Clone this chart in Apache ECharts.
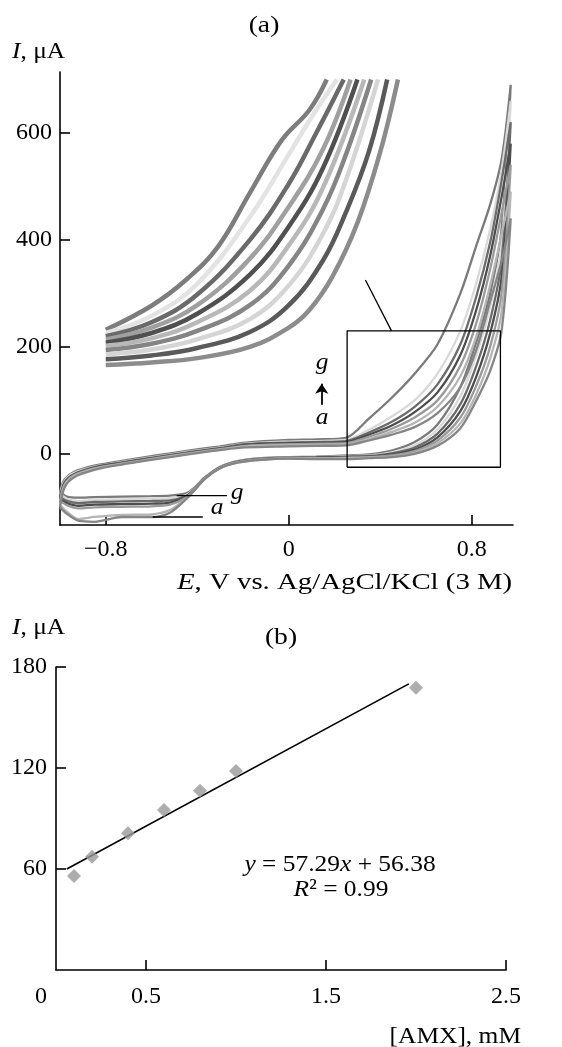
<!DOCTYPE html>
<html><head><meta charset="utf-8">
<script src="https://cdn.jsdelivr.net/npm/echarts@6/dist/echarts.min.js"></script>
<style>html,body{margin:0;padding:0;background:#fff}#c{width:562px;height:1047px}</style>
</head><body><div id="c"></div>
<script>
// ---------- Panel (a): cyclic voltammograms a..g ----------
const curveNames = ['a','b','c','d','e','f','g'];
const curveColors = ['#858585','#b5b5b5','#9a9a9a','#4d4d4d','#6b6b6b','#d9d9d9','#7a7a7a'];
const lowFwdE = [-1.0,-0.98,-0.94,-0.85,-0.73,-0.58,-0.44,-0.30,-0.19,0.0,0.12,0.25];
const lowFwdI = [
  [-100,-63,-44,-30,-20,-10,-1,7,12,14,15,16],
  [-95,-60,-42,-28,-19,-9,0,8,14,16,17,18],
  [-88,-57,-40,-27,-18,-8,1,9,15,18,19,20],
  [-85,-55,-39,-26,-17,-7,2,10,17,20,21,22],
  [-80,-53,-38,-25,-16,-6,3,11,18,21,22,24],
  [-75,-51,-36,-24,-15,-5,4,12,19,23,24,26],
  [-70,-48,-34,-22,-13,-3,6,14,21,26,27,30]
];
const anoFwdE = [0.35,0.45,0.55,0.65,0.75,0.82,0.88,0.93,0.97];
const anoFwdI = [
  [25,36,50,76,125,195,285,360,440],
  [28,41,58,88,145,220,315,410,490],
  [32,47,68,100,165,245,345,450,540],
  [36,53,78,115,185,270,370,480,580],
  [40,60,88,130,205,295,395,510,620],
  [45,70,100,150,230,320,420,530,660],
  [66,105,150,205,300,390,466,550,690]
];
const anoRevE = [0.93,0.88,0.82,0.75,0.65,0.55,0.45,0.35];
const anoRevI = [
  [230,155,100,48,15,0,-6,-8],
  [265,178,112,57,20,2,-5,-7],
  [300,200,128,68,25,5,-3,-6],
  [330,225,145,80,31,8,-1,-5],
  [360,250,165,93,38,12,1,-4],
  [390,275,185,108,46,16,3,-3],
  [420,300,210,125,55,22,6,-1]
];
const lowRevE = [0.25,0.12,0.0,-0.12,-0.22,-0.30,-0.37,-0.41,-0.45,-0.52,-0.60,-0.73,-0.85,-0.92,-0.97,-1.0];
const lowRevI = [
  [-10,-10,-9,-11,-16,-27,-48,-67,-85,-110,-118,-118,-127,-125,-112,-100],
  [-8,-9,-9,-11,-16,-27,-48,-67,-84,-105,-113,-114,-118,-122,-108,-95],
  [-7,-8,-8,-10,-15,-26,-47,-66,-82,-95,-98,-99,-100,-102,-96,-88],
  [-6,-7,-8,-10,-15,-26,-47,-66,-80,-91,-93,-94,-95,-97,-92,-85],
  [-5,-6,-7,-9,-14,-25,-46,-65,-79,-87,-88,-89,-90,-92,-88,-80],
  [-4,-6,-7,-9,-14,-25,-46,-64,-77,-83,-84,-85,-86,-88,-84,-75],
  [-3,-5,-6,-8,-13,-24,-45,-62,-74,-78,-79,-80,-81,-82,-80,-70]
];
// magnified inset (drawn in upper-left, main-axis units)
const insetColors = ['#7d7d7d','#e3e3e3','#6a6a6a','#a0a0a0','#505050','#b8b8b8','#858585','#d5d5d5','#5a5a5a','#8c8c8c'];
const insetCurves = [
  [[-0.80,232],[-0.60,277],[-0.45,325],[-0.31,387],[-0.17,488],[-0.03,587],[0.09,643],[0.166,700]],
  [[-0.80,226],[-0.60,258],[-0.40,318],[-0.17,443],[0.0,560],[0.10,630],[0.21,700]],
  [[-0.80,220],[-0.60,246],[-0.40,298],[-0.17,400],[0.0,505],[0.12,600],[0.24,700]],
  [[-0.80,214],[-0.60,236],[-0.40,278],[-0.17,365],[0.0,462],[0.15,570],[0.27,700]],
  [[-0.80,208],[-0.60,226],[-0.40,262],[-0.17,335],[0.0,425],[0.15,535],[0.30,700]],
  [[-0.80,202],[-0.60,216],[-0.40,246],[-0.17,305],[0.0,390],[0.15,498],[0.33,700]],
  [[-0.80,194],[-0.60,206],[-0.40,230],[-0.17,278],[0.0,352],[0.15,458],[0.25,560],[0.36,700]],
  [[-0.80,186],[-0.60,195],[-0.40,214],[-0.17,252],[0.0,315],[0.15,412],[0.25,512],[0.39,700]],
  [[-0.80,177],[-0.60,184],[-0.40,198],[-0.17,228],[0.0,278],[0.15,362],[0.25,452],[0.35,565],[0.43,700]],
  [[-0.80,166],[-0.60,171],[-0.40,179],[-0.17,200],[0.0,236],[0.09,269],[0.19,331],[0.30,432],[0.40,565],[0.477,700]]
];
const zoomBox = [[0.255,-25],[0.925,-25],[0.925,230],[0.255,230],[0.255,-25]];
const connector = [[0.335,325],[0.449,230]];
const labelLineG = [[-0.49,-78],[-0.27,-78]];
const labelLineA = [[-0.595,-118],[-0.376,-118]];
const arrowLine = [[0.144,92],[0.144,131]];
const aXTicks = [-0.8,0,0.8];
const aYTicks = [0,200,400,600];

// ---------- Panel (b): calibration ----------
const amx = [0.1,0.2,0.4,0.6,0.8,1.0,2.0];
const peakI = [55.9,67.3,81.2,95.1,106.5,118.2,167.7];
const fitLine = [[0.06,60.0],[1.96,170.0]];
const bXTicks = [0.5,1.5,2.5];
const bXLabels = [0,0.5,1.5,2.5];
const bYTicks = [60,120,180];

const FF = '"Liberation Serif","Times New Roman",serif';
const FS = 24;

function loop(k){
  const p=[];
  lowFwdE.forEach((e,i)=>p.push([e,lowFwdI[k][i]]));
  anoFwdE.forEach((e,i)=>p.push([e,anoFwdI[k][i]]));
  anoRevE.forEach((e,i)=>p.push([e,anoRevI[k][i]]));
  lowRevE.forEach((e,i)=>p.push([e,lowRevI[k][i]]));
  return p;
}
function axisCommon(ticks, labels, margin, fmt){
  return {
    axisLine:{show:true,onZero:false,lineStyle:{color:'#000',width:1.6}},
    axisTick:{show:true,inside:true,length:10,customValues:ticks,lineStyle:{color:'#000',width:1.6}},
    axisLabel:{customValues:labels,color:'#000',fontFamily:FF,fontSize:FS,margin:margin,formatter:fmt},
    splitLine:{show:false}
  };
}
const series=[];
insetCurves.forEach((c,i)=>series.push({type:'line',xAxisIndex:0,yAxisIndex:0,data:c,smooth:0.4,showSymbol:false,
  lineStyle:{color:insetColors[i],width:4.5},silent:true,z:2}));
[6,5,4,3,2,1,0].forEach(k=>series.push({type:'line',name:curveNames[k],xAxisIndex:0,yAxisIndex:0,data:loop(k),smooth:0.3,showSymbol:false,
  lineStyle:{color:curveColors[k],width:2.3},silent:true,z:3}));
[zoomBox,connector,labelLineG,labelLineA].forEach(d=>series.push({type:'line',xAxisIndex:0,yAxisIndex:0,data:d,showSymbol:false,clip:false,
  lineStyle:{color:'#000',width:1.3},silent:true,z:5}));
series.push({type:'lines',coordinateSystem:'cartesian2d',xAxisIndex:0,yAxisIndex:0,data:[{coords:arrowLine}],
  symbol:['none','arrow'],symbolSize:[0,10],lineStyle:{color:'#000',width:1.8,opacity:1},silent:true,z:5});
series.push({type:'line',xAxisIndex:1,yAxisIndex:1,data:fitLine,showSymbol:false,lineStyle:{color:'#000',width:1.6},silent:true,z:3});
series.push({type:'scatter',xAxisIndex:1,yAxisIndex:1,data:amx.map((x,i)=>[x,peakI[i]]),symbol:'diamond',symbolSize:[14,14],
  itemStyle:{color:'#999999'},silent:true,z:4});

function txt(x,y,text,align,sx){
  return {type:'text',x:x,y:y,scaleX:sx||1.06,silent:true,style:{text:text,fontFamily:FF,fontSize:FS,fill:'#000',
    align:align,textAlign:align,verticalAlign:'middle',textVerticalAlign:'middle',
    rich:{i:{fontStyle:'italic',fontFamily:FF,fontSize:FS}}}};
}
const graphics=[
  txt(264,26,'(a)','center',1.15),
  txt(12,52,'{i|I}, μA','left'),
  txt(177,583,'{i|E}, V vs. Ag/AgCl/KCl (3 M)','left',1.2),
  txt(237,493,'{i|g}','center'),
  txt(217,508,'{i|a}','center'),
  txt(322,363,'{i|g}','center'),
  txt(322,418,'{i|a}','center'),
  txt(281,638,'(b)','center',1.15),
  txt(12,628,'{i|I}, μA','left'),
  txt(340,865,'{i|y} = 57.29{i|x} + 56.38','center'),
  txt(341,890,'{i|R}² = 0.99','center'),
  txt(521,1037,'[AMX], mM','right')
];

const chart=echarts.init(document.getElementById('c'),null,{renderer:'canvas'});
chart.setOption({
  animation:false,
  backgroundColor:'#fff',
  grid:[{left:60,top:72,width:453,height:453},{left:56,top:667,width:450,height:303}],
  xAxis:[
    Object.assign({type:'value',gridIndex:0,min:-1.0,max:0.98},axisCommon(aXTicks,aXTicks,13,v=>v<0?'\u2212'+Math.abs(v):String(v))),
    Object.assign({type:'value',gridIndex:1,min:0,max:2.5},axisCommon(bXTicks,bXLabels,15,v=>v===0?'{z|0}':String(v)))
  ],
  yAxis:[
    Object.assign({type:'value',gridIndex:0,min:-133,max:714},axisCommon(aYTicks,aYTicks,8,v=>String(v))),
    Object.assign({type:'value',gridIndex:1,min:0,max:180},axisCommon(bYTicks,bYTicks,9,v=>String(v)))
  ],
  series:series,
  graphic:graphics
});
chart.setOption({xAxis:[{},{axisLabel:{rich:{z:{fontFamily:FF,fontSize:FS,color:'#000',padding:[0,30,0,0]}}}}]});
</script></body></html>
